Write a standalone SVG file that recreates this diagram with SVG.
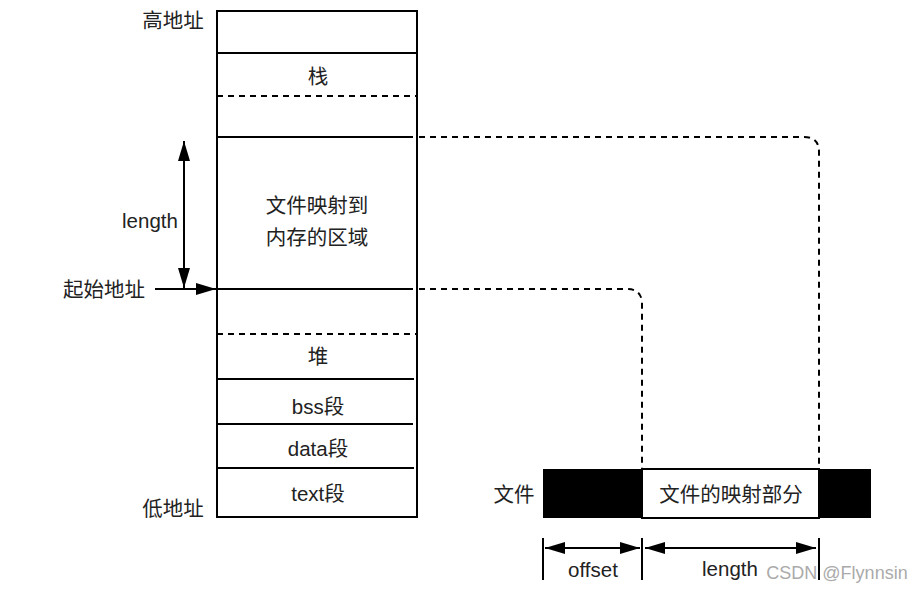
<svg xmlns="http://www.w3.org/2000/svg" width="923" height="592" viewBox="0 0 923 592">
<style>
.t{font-family:"Liberation Sans","Noto Sans CJK SC",sans-serif;font-size:20.5px;fill:#222;text-anchor:middle;dominant-baseline:central}
.s{stroke:#000;stroke-width:2;fill:none}
.d{stroke:#000;stroke-width:2;fill:none;stroke-dasharray:6 5}
</style>
<defs>
<marker id="b" viewBox="0 0 20 12" refX="20" refY="6" markerWidth="20" markerHeight="12" markerUnits="userSpaceOnUse" orient="auto-start-reverse"><path d="M0,0 L20,6 L0,12 z" fill="#000"/></marker>
</defs>
<rect width="923" height="592" fill="#fff"/>
<g id="memory">
<rect x="217" y="11" width="200" height="506" class="s"/>
<line x1="217" y1="53" x2="417" y2="53" class="s"/>
<line x1="217" y1="96" x2="417" y2="96" class="d"/>
<line x1="217" y1="137" x2="413" y2="137" class="s"/>
<line x1="217" y1="289" x2="413" y2="289" class="s"/>
<line x1="217" y1="334" x2="417" y2="334" class="d"/>
<line x1="217" y1="379" x2="414" y2="379" class="s"/>
<line x1="217" y1="424" x2="413" y2="424" class="s"/>
<line x1="217" y1="468" x2="414" y2="468" class="s"/>
<text class="t" x="318" y="76">栈</text>
<text class="t" x="317" y="205">文件映射到</text>
<text class="t" x="317" y="237">内存的区域</text>
<text class="t" x="318" y="356">堆</text>
<text class="t" x="318" y="406">bss段</text>
<text class="t" x="318" y="448">data段</text>
<text class="t" x="318" y="493">text段</text>
</g>
<g id="labels">
<text class="t" x="173" y="20">高地址</text>
<text class="t" x="173" y="508">低地址</text>
<text class="t" x="104" y="289">起始地址</text>
<text class="t" x="150" y="220">length</text>
</g>
<g id="file">
<rect x="543" y="469" width="99" height="49" fill="#000"/>
<rect x="642" y="469" width="177" height="49" fill="#fff" stroke="#000" stroke-width="2"/>
<rect x="819" y="469" width="52" height="49" fill="#000"/>
<text class="t" x="731" y="494">文件的映射部分</text>
<text class="t" x="514" y="494">文件</text>
</g>
<g id="connectors">
<line x1="155" y1="289" x2="216" y2="289" stroke="#000" stroke-width="2" marker-end="url(#b)"/>
<line x1="184" y1="141" x2="184" y2="288" stroke="#000" stroke-width="2" marker-start="url(#b)" marker-end="url(#b)"/>
<path d="M419,137 H804 Q819,137 819,152 V468" class="d"/>
<path d="M419,289 H627 Q642,289 642,304 V468" class="d"/>
<line x1="543" y1="538" x2="543" y2="580" class="s"/>
<line x1="642" y1="538" x2="642" y2="580" class="s"/>
<line x1="819" y1="538" x2="819" y2="580" class="s"/>
<line x1="545" y1="548" x2="640" y2="548" stroke="#000" stroke-width="2" marker-start="url(#b)" marker-end="url(#b)"/>
<line x1="645" y1="548" x2="816" y2="548" stroke="#000" stroke-width="2" marker-start="url(#b)" marker-end="url(#b)"/>
</g>
<g id="dim-labels">
<text class="t" x="593" y="569">offset</text>
<text class="t" x="730" y="568">length</text>
<text class="t" x="837" y="573" style="fill:#aaa;font-size:18px">CSDN @Flynnsin</text>
</g>
</svg>
